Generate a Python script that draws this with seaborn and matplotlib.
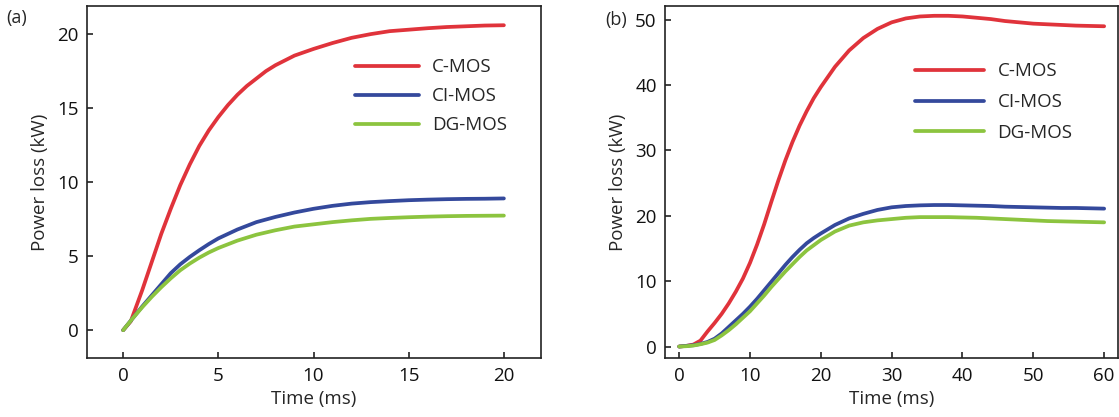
import numpy as np
import pandas as pd
import matplotlib
matplotlib.use("Agg")
import matplotlib.pyplot as plt
import seaborn as sns

# ---------------- data ----------------
series_names = ["C-MOS", "CI-MOS", "DG-MOS"]
colors = ["#e0333b", "#34499c", "#8cc43f"]

# panel (a)
t_a_red = [0, 0.4, 1, 1.5, 2, 2.5, 3, 3.5, 4, 4.5, 5, 5.5, 6, 6.5, 7, 7.5, 8, 9, 10, 11, 12,
           13, 14, 15, 16, 17, 18, 19, 20]
p_a_red = [0, 0.6, 2.7, 4.6, 6.5, 8.2, 9.8, 11.2, 12.45, 13.5, 14.4, 15.2, 15.9, 16.5, 17.0,
           17.5, 17.9, 18.55, 19.0, 19.4, 19.75, 20.0, 20.2, 20.3, 20.4, 20.48, 20.53, 20.58, 20.6]
t_a_bg = [0, 0.5, 1, 1.5, 2, 2.5, 3, 3.5, 4, 4.5, 5, 6, 7, 8, 9, 10, 11, 12, 13, 14, 15, 16, 17,
          18, 19, 20]
p_a_blue = [0, 0.8, 1.6, 2.35, 3.1, 3.85, 4.45, 4.95, 5.4, 5.82, 6.2, 6.8, 7.3, 7.65, 7.95, 8.2,
            8.4, 8.55, 8.65, 8.72, 8.78, 8.82, 8.85, 8.87, 8.88, 8.9]
p_a_green = [0, 0.8, 1.55, 2.25, 2.9, 3.5, 4.05, 4.5, 4.9, 5.25, 5.55, 6.05, 6.45, 6.75, 7.0,
             7.15, 7.3, 7.42, 7.52, 7.58, 7.63, 7.67, 7.7, 7.72, 7.73, 7.74]

# panel (b)
t_b = [0, 1, 2, 3, 4, 5, 6, 7, 8, 9, 10, 11, 12, 13, 14, 15, 16, 17, 18, 19, 20,
       22, 24, 26, 28, 30, 32, 34, 36, 38, 40, 42, 44, 46, 48, 50, 52, 54, 56, 58, 60]
p_b_red = [0, 0.1, 0.3, 0.9, 2.3, 3.6, 5.0, 6.6, 8.4, 10.4, 12.8, 15.6, 18.7, 22.1, 25.4, 28.5,
           31.3, 33.8, 36.0, 38.0, 39.7, 42.8, 45.3, 47.2, 48.6, 49.6, 50.2, 50.5, 50.6, 50.6,
           50.5, 50.3, 50.1, 49.8, 49.6, 49.4, 49.3, 49.2, 49.1, 49.05, 49.0]
p_b_blue = [0, 0.1, 0.2, 0.4, 0.7, 1.2, 2.0, 3.0, 4.0, 5.0, 6.1, 7.3, 8.6, 9.9, 11.2, 12.5, 13.7,
            14.8, 15.8, 16.6, 17.3, 18.6, 19.6, 20.3, 20.9, 21.3, 21.5, 21.6, 21.65, 21.65,
            21.6, 21.55, 21.5, 21.4, 21.35, 21.3, 21.25, 21.2, 21.2, 21.15, 21.1]
p_b_green = [0, 0.05, 0.15, 0.35, 0.6, 1.0, 1.7, 2.5, 3.4, 4.4, 5.4, 6.6, 7.8, 9.1, 10.3, 11.5,
             12.6, 13.7, 14.7, 15.5, 16.3, 17.6, 18.5, 19.0, 19.3, 19.5, 19.7, 19.8, 19.8, 19.8,
             19.75, 19.7, 19.6, 19.5, 19.4, 19.3, 19.2, 19.15, 19.1, 19.05, 19.0]

xticks_a = [0, 5, 10, 15, 20]
yticks_a = [0, 5, 10, 15, 20]
xticks_b = [0, 10, 20, 30, 40, 50, 60]
yticks_b = [0, 10, 20, 30, 40, 50]


def frame(ts, ps):
    parts = []
    for name, t, p in zip(series_names, ts, ps):
        parts.append(pd.DataFrame({"Time": t, "Power": p, "Device": name}))
    return pd.concat(parts, ignore_index=True)


df_a = frame([t_a_red, t_a_bg, t_a_bg], [p_a_red, p_a_blue, p_a_green])
df_b = frame([t_b, t_b, t_b], [p_b_red, p_b_blue, p_b_green])

# ---------------- style ----------------
sns.set_theme(style="white")
plt.rcParams["font.family"] = ["Open Sans", "DejaVu Sans"]
plt.rcParams["axes.edgecolor"] = "#222222"
plt.rcParams["axes.linewidth"] = 1.2

fig = plt.figure(figsize=(11.19, 4.17), dpi=100)
ax_a = fig.add_axes([87 / 1119, 1 - 358.3 / 417, 454 / 1119, 352.3 / 417])
ax_b = fig.add_axes([665 / 1119, 1 - 358.3 / 417, 453.3 / 1119, 352.3 / 417])

palette = dict(zip(series_names, colors))

for ax, df in ((ax_a, df_a), (ax_b, df_b)):
    sns.lineplot(data=df, x="Time", y="Power", hue="Device", hue_order=series_names,
                 palette=palette, linewidth=2.7, ax=ax, sort=False, estimator=None)
    ax.set_xlabel("Time (ms)", fontsize=13.5, labelpad=4)
    ax.set_ylabel("Power loss (kW)", fontsize=13.5, labelpad=6)
    ax.tick_params(axis="both", which="major", direction="in", length=4.5, width=1.2,
                   labelsize=13.5, colors="#222222", labelcolor="#111111", pad=6,
                   bottom=True, left=True, top=False, right=False)
    for s in ax.spines.values():
        s.set_visible(True)
        s.set_color("#222222")

ax_a.set_xlim(-1.9, 21.95)
ax_a.set_ylim(-1.9, 21.9)
ax_a.set_xticks(xticks_a)
ax_a.set_yticks(yticks_a)

ax_b.set_xlim(-2.0, 62.0)
ax_b.set_ylim(-1.8, 52.1)
ax_b.set_xticks(xticks_b)
ax_b.set_yticks(yticks_b)

# legends
h, l = ax_a.get_legend_handles_labels()
ax_a.legend(h, l, loc="upper left", bbox_to_anchor=(0.59, 0.852), frameon=False,
            fontsize=13.5, handlelength=3.4, handletextpad=0.7, labelspacing=0.59,
            borderpad=0, borderaxespad=0)
h, l = ax_b.get_legend_handles_labels()
ax_b.legend(h, l, loc="upper left", bbox_to_anchor=(0.5515, 0.84), frameon=False,
            fontsize=13.5, handlelength=3.7, handletextpad=0.7, labelspacing=0.68,
            borderpad=0, borderaxespad=0)

fig.text(6 / 1119, 1 - 18.5 / 417, "(a)", fontsize=13, va="center", ha="left")
fig.text(605 / 1119, 1 - 20 / 417, "(b)", fontsize=13, va="center", ha="left")

fig.savefig("out.png", dpi=100)
